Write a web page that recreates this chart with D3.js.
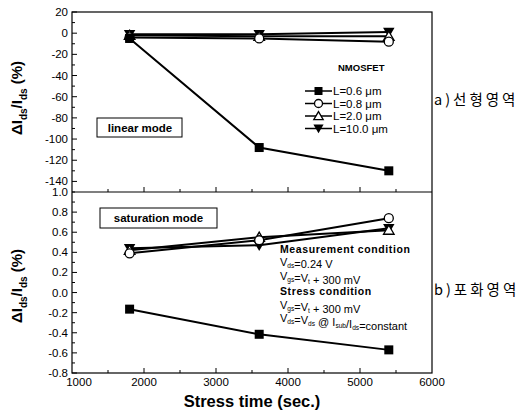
<!DOCTYPE html>
<html>
<head>
<meta charset="utf-8">
<script src="https://cdn.jsdelivr.net/npm/d3@7"></script>
<style>
  body { margin: 0; background: #fff; }
  svg text { font-family: "Liberation Sans", Arial, sans-serif; fill: #000; }
  .kr { font-family: "Noto Sans CJK KR", sans-serif; }
</style>
</head>
<body>
<div id="chart"></div>
<script>
// stress time (sec.)
var stressTime = [1800, 3600, 5400];
var seriesNames = ["L=0.6 \u03bcm", "L=0.8 \u03bcm", "L=2.0 \u03bcm", "L=10.0 \u03bcm"];
var markerTypes = ["square", "circle", "triangle", "triangleDown"];

// linear mode, dIds/Ids (%)
var linL06 = [-5, -108, -130];
var linL08 = [-4, -5, -8];
var linL20 = [-2, -3, -3];
var linL100 = [-1, -1, 1];

// saturation mode, dIds/Ids (%)
var satL06 = [-0.165, -0.415, -0.57];
var satL08 = [0.39, 0.52, 0.74];
var satL20 = [0.42, 0.55, 0.62];
var satL100 = [0.44, 0.47, 0.64];

var xTicks = [1000, 2000, 3000, 4000, 5000, 6000];
var linTicks = [20, 0, -20, -40, -60, -80, -100, -120, -140];
var satTicks = [1.0, 0.8, 0.6, 0.4, 0.2, 0.0, -0.2, -0.4, -0.6, -0.8];

var W = 532, H = 413;
var pLeft = 72, pRight = 432, pTop = 12, pMid = 192, pBottom = 373;

var svg = d3.select("#chart").append("svg")
  .attr("width", W).attr("height", H);

var x = d3.scaleLinear().domain([1000, 6000]).range([pLeft, pRight]);
var yLin = d3.scaleLinear().domain([-150, 20]).range([pMid, pTop]);
var ySat = d3.scaleLinear().domain([-0.8, 1.0]).range([pBottom, pMid]);

function fmtMinus(s) { return s.replace("\u2212", "-"); }

function drawTicks(g, scale, values, orient, len) {
  values.forEach(function (v) {
    var p = scale(v);
    if (orient == "left") g.append("line").attr("x1", pLeft).attr("x2", pLeft + len).attr("y1", p).attr("y2", p);
    if (orient == "bottom") g.append("line").attr("x1", p).attr("x2", p).attr("y1", pBottom).attr("y2", pBottom - len);
    if (orient == "mid") g.append("line").attr("x1", p).attr("x2", p).attr("y1", pMid).attr("y2", pMid - len);
  });
  g.attr("stroke", "#000").attr("stroke-width", 1);
}

// frames
svg.append("rect").attr("x", pLeft).attr("y", pTop).attr("width", pRight - pLeft).attr("height", pBottom - pTop)
  .attr("fill", "none").attr("stroke", "#000").attr("stroke-width", 1.2);
svg.append("line").attr("x1", pLeft).attr("x2", pRight).attr("y1", pMid).attr("y2", pMid)
  .attr("stroke", "#000").attr("stroke-width", 1.2);

// ticks
drawTicks(svg.append("g"), yLin, d3.range(-140, 21, 20), "left", 5);
drawTicks(svg.append("g"), yLin, d3.range(-150, 20, 20), "left", 3);
drawTicks(svg.append("g"), ySat, d3.range(-0.8, 1.0, 0.2), "left", 5);
drawTicks(svg.append("g"), ySat, d3.range(-0.7, 1.0, 0.2), "left", 3);
drawTicks(svg.append("g"), x, xTicks.slice(1, 5), "bottom", 5);
drawTicks(svg.append("g"), x, [1500, 2500, 3500, 4500, 5500], "bottom", 3);
drawTicks(svg.append("g"), x, xTicks.slice(1, 5), "mid", 5);
drawTicks(svg.append("g"), x, [1500, 2500, 3500, 4500, 5500], "mid", 3);

// tick labels
var f0 = d3.format("d"), f1 = d3.format(".1f");
svg.append("g").selectAll("text").data(linTicks).join("text")
  .attr("x", pLeft - 4).attr("y", function (d) { return yLin(d) + 4; })
  .attr("text-anchor", "end").attr("font-size", 11.5)
  .text(function (d) { return fmtMinus(f0(d)); });
svg.append("g").selectAll("text").data(satTicks).join("text")
  .attr("x", pLeft - 4).attr("y", function (d) { return ySat(d) + 4; })
  .attr("text-anchor", "end").attr("font-size", 11.5)
  .text(function (d) { return fmtMinus(f1(d)); });
svg.append("g").selectAll("text").data(xTicks).join("text")
  .attr("x", function (d, i) { return x(d) + (i == 0 ? 7 : 0); }).attr("y", pBottom + 12.5)
  .attr("text-anchor", "middle").attr("font-size", 11.5)
  .text(function (d) { return f0(d); });

// series
var linData = [linL06, linL08, linL20, linL100];
var satData = [satL06, satL08, satL20, satL100];

function marker(g, type, cx, cy, s) {
  if (type == "square") {
    g.append("rect").attr("x", cx - s / 2).attr("y", cy - s / 2).attr("width", s).attr("height", s).attr("fill", "#000");
  } else if (type == "circle") {
    g.append("circle").attr("cx", cx).attr("cy", cy).attr("r", s / 2).attr("fill", "#fff").attr("stroke", "#000").attr("stroke-width", 1.3);
  } else if (type == "triangle") {
    g.append("path").attr("d", d3.symbol(d3.symbolTriangle, s * s * 0.6)()).attr("transform", "translate(" + cx + "," + (cy + 1) + ")")
      .attr("fill", "#fff").attr("stroke", "#000").attr("stroke-width", 1.3);
  } else {
    g.append("path").attr("d", d3.symbol(d3.symbolTriangle, s * s * 0.7)()).attr("transform", "translate(" + cx + "," + (cy - 1) + ") rotate(180)")
      .attr("fill", "#000");
  }
}

function drawSeries(yScale, data) {
  var g = svg.append("g");
  var line = d3.line().x(function (d, i) { return x(stressTime[i]); }).y(function (d) { return yScale(d); });
  for (var k = data.length - 1; k >= 0; k--) {
    g.append("path").datum(data[k]).attr("d", line).attr("fill", "none").attr("stroke", "#000").attr("stroke-width", 2);
  }
  for (var k = data.length - 1; k >= 0; k--) {
    data[k].forEach(function (v, i) { marker(g, markerTypes[k], x(stressTime[i]), yScale(v), 9); });
  }
}
drawSeries(yLin, linData);
drawSeries(ySat, satData);

// legend
var lg = svg.append("g");
lg.append("text").attr("x", 338).attr("y", 71).attr("font-size", 9.5).attr("font-weight", "bold").text("NMOSFET");
seriesNames.forEach(function (name, i) {
  var yy = 91 + i * 12.5;
  lg.append("line").attr("x1", 305).attr("x2", 332).attr("y1", yy).attr("y2", yy).attr("stroke", "#000").attr("stroke-width", 1.5);
  marker(lg, markerTypes[i], 318.5, yy, 8);
  lg.append("text").attr("x", 333).attr("y", yy + 4).attr("font-size", 11.5).text(name);
});

// mode boxes
svg.append("rect").attr("x", 97).attr("y", 118).attr("width", 85).attr("height", 19).attr("fill", "#fff").attr("stroke", "#000");
svg.append("text").attr("x", 140).attr("y", 131.5).attr("text-anchor", "middle").attr("font-size", 11.5).attr("font-weight", "bold").text("linear mode");
svg.append("rect").attr("x", 100).attr("y", 208).attr("width", 117).attr("height", 20).attr("fill", "#fff").attr("stroke", "#000");
svg.append("text").attr("x", 158.5).attr("y", 222).attr("text-anchor", "middle").attr("font-size", 11.5).attr("font-weight", "bold").text("saturation mode");

// conditions
function richText(g, xx, yy, parts, size, weight) {
  var t = g.append("text").attr("x", xx).attr("y", yy).attr("font-size", size).attr("font-weight", weight || "normal");
  if (weight == "bold") t.attr("letter-spacing", 0.6);
  parts.forEach(function (p) {
    if (p[1]) {
      t.append("tspan").attr("font-size", size * 0.6).attr("dy", 2).text(p[0]);
      t.append("tspan").attr("dy", -2).text("");
    } else {
      t.append("tspan").text(p[0]);
    }
  });
  return t;
}
var cg = svg.append("g");
var cx0 = 280;
richText(cg, cx0, 252.5, [["Measurement condition"]], 10.5, "bold");
richText(cg, cx0, 266, [["V"], ["ds", 1], ["=0.24 V"]], 11);
richText(cg, cx0, 279.5, [["V"], ["gs", 1], ["=V"], ["t", 1], [" + 300 mV"]], 11);
richText(cg, cx0, 295, [["Stress condition"]], 10.5, "bold");
richText(cg, cx0, 308.5, [["V"], ["gs", 1], ["=V"], ["t", 1], [" + 300 mV"]], 11);
richText(cg, cx0, 322, [["V"], ["ds", 1], ["=V"], ["ds", 1], [" @ I"], ["sub", 1], ["/I"], ["ds", 1], ["=constant"]], 11);

// axis titles
function yTitle(cy) {
  var t = svg.append("text").attr("transform", "translate(22," + cy + ") rotate(-90)")
    .attr("text-anchor", "middle").attr("font-size", 15).attr("font-weight", "bold");
  t.append("tspan").text("\u0394I");
  t.append("tspan").attr("font-size", 10).attr("dy", 5).text("ds");
  t.append("tspan").attr("dy", -5).text("/I");
  t.append("tspan").attr("font-size", 10).attr("dy", 5).text("ds");
  t.append("tspan").attr("dy", -5).text(" (%)");
}
yTitle(98);
yTitle(286);

svg.append("text").attr("x", (pLeft + pRight) / 2).attr("y", 407).attr("text-anchor", "middle")
  .attr("font-size", 16.5).attr("font-weight", "bold").text("Stress time (sec.)");

svg.append("text").attr("class", "kr").attr("x", 434).attr("y", 105).attr("font-size", 14.5).attr("letter-spacing", 3).text("a)\uc120\ud615\uc601\uc5ed");
svg.append("text").attr("class", "kr").attr("x", 434).attr("y", 295).attr("font-size", 14.5).attr("letter-spacing", 3).text("b)\ud3ec\ud654\uc601\uc5ed");
</script>
</body>
</html>
